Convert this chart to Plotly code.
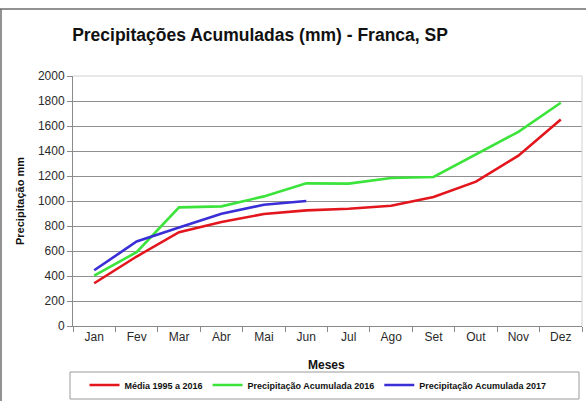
import plotly.graph_objects as go

meses = ["Jan", "Fev", "Mar", "Abr", "Mai", "Jun", "Jul", "Ago", "Set", "Out", "Nov", "Dez"]
media_1995_2016 = [342, 556, 751, 832, 896, 925, 938, 962, 1032, 1155, 1363, 1652]
acum_2016 = [403, 591, 949, 957, 1037, 1141, 1139, 1184, 1192, 1371, 1553, 1786]
acum_2017 = [446, 676, 788, 898, 970, 1000]

series = [
    ("Média 1995 a 2016", media_1995_2016, "#e3161d"),
    ("Precipitação Acumulada 2016", acum_2016, "#3be33b"),
    ("Precipitação Acumulada 2017", acum_2017, "#3a2fd6"),
]

W, H = 586, 401
L, R, T, B = 73, 4, 76, 75
pw, ph = W - L - R, H - T - B

def px_x(p):
    return (p - L) / pw

def px_y(p):
    return (H - B - p) / ph

fig = go.Figure()
for name, vals, col in series:
    fig.add_trace(go.Scatter(
        x=meses[:len(vals)], y=vals, name=name, mode="lines",
        line=dict(color=col, width=2.6),
    ))

font = "Liberation Sans, Arial, sans-serif"

fig.update_layout(
    width=W, height=H,
    margin=dict(l=L, r=R, t=T, b=B, autoexpand=False),
    paper_bgcolor="white", plot_bgcolor="white",
    font=dict(family=font, size=12, color="#222222"),
    title=dict(
        text="<b>Precipitações Acumuladas (mm) - Franca, SP</b>",
        x=260 / W, xanchor="center", y=1 - 35 / H, yanchor="middle",
        font=dict(family=font, size=17.5, color="#111111"),
    ),
    showlegend=True,
    legend=dict(
        orientation="h", xref="container", yref="container",
        x=318 / W, xanchor="center",
        y=1 - 385 / H, yanchor="middle",
        font=dict(family=font, size=9, color="#111111", weight="bold"),
        bgcolor="rgba(0,0,0,0)", itemwidth=30, tracegroupgap=0,
    ),
    xaxis=dict(
        type="category", range=[-0.5, 11.5],
        showline=True, linecolor="#8a8a8a", linewidth=1,
        ticks="outside", ticklen=5, tickcolor="#8a8a8a", tickson="boundaries",
        showgrid=False, zeroline=False,
        tickfont=dict(size=12, color="#2a2a2a"),
    ),
    yaxis=dict(
        range=[0, 2000], dtick=200, tickmode="linear",
        showline=True, linecolor="#8a8a8a", linewidth=1,
        ticks="outside", ticklen=5, tickcolor="#8a8a8a",
        showgrid=True, gridcolor="#8f8f8f", gridwidth=1,
        zeroline=False,
        tickfont=dict(size=12, color="#2a2a2a"),
    ),
    annotations=[
        dict(text="<b>Precipitação mm</b>", xref="paper", yref="paper",
             x=px_x(20), y=px_y(201), textangle=-90, showarrow=False,
             xanchor="center", yanchor="middle",
             font=dict(family=font, size=11, color="#111111")),
        dict(text="<b>Meses</b>", xref="paper", yref="paper",
             x=px_x(326), y=px_y(365), showarrow=False,
             xanchor="center", yanchor="middle",
             font=dict(family=font, size=12, color="#111111")),
    ],
    shapes=[
        # plot area border (top/right)
        dict(type="line", xref="paper", yref="paper", x0=0, x1=1, y0=1, y1=1,
             line=dict(color="#d0d0d0", width=1), layer="above"),
        dict(type="line", xref="paper", yref="paper", x0=1, x1=1, y0=0, y1=1,
             line=dict(color="#d0d0d0", width=1), layer="above"),
        # legend box
        dict(type="rect", xref="paper", yref="paper",
             x0=px_x(70), x1=px_x(579), y0=px_y(399), y1=px_y(372),
             line=dict(color="#9a9a9a", width=1)),
        # outer chart frame (top and left)
        dict(type="line", xref="paper", yref="paper",
             x0=px_x(0), x1=px_x(586), y0=px_y(9), y1=px_y(9),
             line=dict(color="#6e6e6e", width=1.5)),
        dict(type="line", xref="paper", yref="paper",
             x0=px_x(1), x1=px_x(1), y0=px_y(9), y1=px_y(401),
             line=dict(color="#6e6e6e", width=1.5)),
    ],
)

fig.write_html(
    "out.html",
    config={"displayModeBar": False},
    post_script="document.body.style.margin='0';document.body.style.padding='0';",
)
